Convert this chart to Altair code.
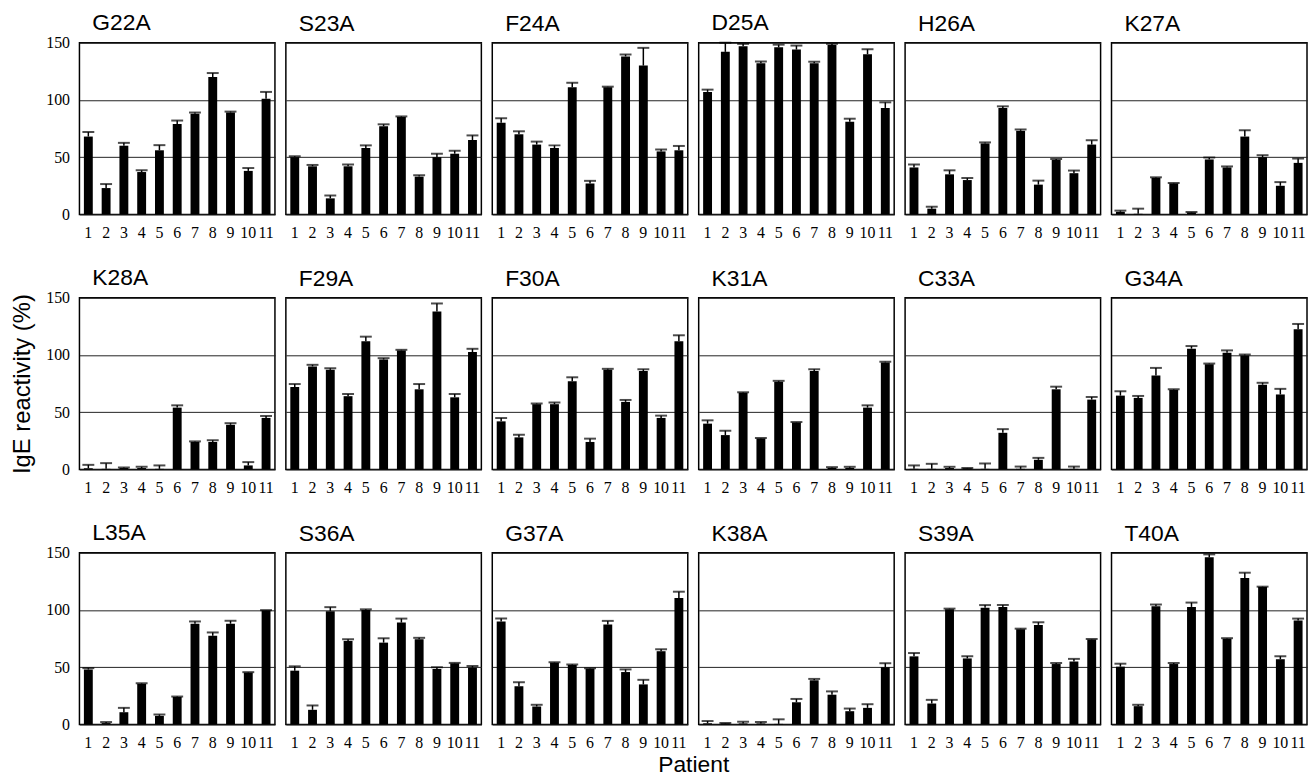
import altair as alt
import pandas as pd

patients = list(range(1, 12))

mutants = ["G22A", "S23A", "F24A", "D25A", "H26A", "K27A",
           "K28A", "F29A", "F30A", "K31A", "C33A", "G34A",
           "L35A", "S36A", "G37A", "K38A", "S39A", "T40A"]

G22A = [68, 23, 60, 37, 56, 79, 88, 120, 89, 38, 101]
G22A_err = [4, 3.5, 2.5, 1.5, 4.5, 3, 1, 3.5, 0.8, 2.5, 6]
S23A = [50, 42, 14, 42, 58, 77, 85, 33, 50, 53, 65]
S23A_err = [0.8, 1.2, 2.5, 1.5, 2.3, 1.7, 0.6, 1.2, 3, 2.6, 4]
F24A = [80, 70, 61, 58, 111, 27, 111, 138, 130, 55, 56]
F24A_err = [4, 2.6, 2.6, 2.3, 4, 2.3, 0.6, 1.7, 15.5, 1.7, 3.8]
D25A = [107, 142, 147, 132, 146, 144, 132, 148, 81, 140, 93]
D25A_err = [2, 8, 2, 1.5, 2.3, 3.5, 1.4, 1, 2.6, 4.3, 4.9]
H26A = [41, 5, 35, 30, 62, 93, 73, 26, 47.5, 36, 61]
H26A_err = [2.6, 1.7, 3.5, 1.7, 0.9, 1.4, 1.2, 3.5, 0.9, 2.3, 3.8]
K27A = [2.3, 0.5, 32, 27, 1.7, 48, 41, 68, 50, 25, 45]
K27A_err = [1, 4.5, 0.4, 0.5, 0.4, 1.7, 0.9, 5.5, 1.7, 3.2, 3.8]
K28A = [1, 0.5, 1.2, 1.2, 0.5, 54, 24, 24, 39, 3.5, 45]
K28A_err = [3, 5, 0.5, 1.1, 3, 2, 0.5, 1.5, 1.4, 2.9, 1.7]
F29A = [72, 90, 87, 64, 112, 96, 104, 70, 138, 63, 102.5]
F29A_err = [2.6, 1.4, 1.4, 2, 4, 1.2, 0.5, 4.6, 7, 2.9, 2.9]
F30A = [42, 28, 57, 57, 77, 24, 87, 59, 86, 45, 112]
F30A_err = [2.9, 2.3, 0.6, 1.5, 3.5, 2.9, 0.9, 1.7, 1.5, 2, 5.2]
K31A = [40, 30, 67, 27, 76.5, 41, 86, 1.4, 1.4, 54, 93.5]
K31A_err = [2.9, 3.8, 0.4, 0.5, 0.9, 0.4, 1.5, 0.6, 0.9, 2, 0.6]
C33A = [0.5, 0.5, 1.2, 0.9, 0.5, 32, 0.5, 8.4, 70, 0.5, 61]
C33A_err = [3, 4.4, 1.1, 0.4, 4.7, 3.2, 2, 1.7, 2.3, 2, 2.3]
G34A = [64.5, 62.5, 82, 69.5, 105.5, 92, 102, 99.5, 74, 65.5, 122.5]
G34A_err = [3.8, 1.7, 6.7, 0.5, 2.3, 0.5, 2, 0.9, 1.7, 4.9, 4.6]
L35A = [48, 1.2, 10.7, 35.5, 7.5, 24, 88, 77.5, 88, 45.3, 99.5]
L35A_err = [1.2, 0.9, 3.8, 0.5, 1.2, 0.4, 2, 2.9, 2.6, 0.4, 0.4]
S36A = [47, 12.8, 99, 73, 100, 71.5, 89, 74.5, 48.5, 53.4, 49.6]
S36A_err = [3.8, 3.8, 3.5, 1.5, 0.6, 3.8, 3.5, 1.2, 1.5, 0.4, 1.5]
G37A = [90, 33.4, 15.7, 54, 52, 48.7, 87.3, 45.8, 35, 64, 110.5]
G37A_err = [2.6, 3.5, 1.5, 0.4, 0.4, 0.4, 3.2, 2.3, 4, 1.7, 5.5]
K38A = [1, 0.9, 0.9, 0.9, 0.5, 19.4, 38.6, 26, 11.6, 14.5, 50]
K38A_err = [2, 0.4, 1.5, 1.2, 4, 2.9, 1.2, 2.9, 2.3, 3.2, 3.5]
S39A = [59.5, 18.3, 100.7, 57.7, 102, 102.7, 83.3, 87, 52.8, 55, 74.3]
S39A_err = [2.9, 3.2, 0.5, 2, 2.3, 1.7, 0.4, 2.3, 0.9, 2.3, 0.4]
T40A = [50.5, 16, 103.3, 52.8, 102.7, 146, 75, 128, 120, 57, 90.8]
T40A_err = [2.6, 1.2, 1.5, 0.9, 3.8, 2.6, 0.4, 4.6, 0.4, 2.6, 1.7]

series = {
    "G22A": (G22A, G22A_err), "S23A": (S23A, S23A_err), "F24A": (F24A, F24A_err),
    "D25A": (D25A, D25A_err), "H26A": (H26A, H26A_err), "K27A": (K27A, K27A_err),
    "K28A": (K28A, K28A_err), "F29A": (F29A, F29A_err), "F30A": (F30A, F30A_err),
    "K31A": (K31A, K31A_err), "C33A": (C33A, C33A_err), "G34A": (G34A, G34A_err),
    "L35A": (L35A, L35A_err), "S36A": (S36A, S36A_err), "G37A": (G37A, G37A_err),
    "K38A": (K38A, K38A_err), "S39A": (S39A, S39A_err), "T40A": (T40A, T40A_err),
}

y_ticks = [0, 50, 100, 150]
SANS = "Liberation Sans"
SERIF = "Liberation Serif"
W, H = 197, 173


def panel(idx, name):
    vals, errs = series[name]
    df = pd.DataFrame({"patient": patients, "value": vals, "err": errs})
    df["top"] = df["value"] + df["err"]
    col = idx % 6
    row = idx // 6

    xaxis = alt.Axis(title=None, labelAngle=0, ticks=False, domain=False,
                     labelFont=SERIF, labelFontSize=16, labelPadding=10,
                     labelColor="black", grid=False)
    xscale = alt.Scale(paddingInner=0.5, paddingOuter=0.25)
    yargs = dict(values=y_ticks, grid=True, gridColor="#222222", gridWidth=1,
                 ticks=False, domain=False, labels=(col == 0),
                 labelFont=SERIF, labelFontSize=16, labelPadding=10,
                 labelColor="black")
    if col == 0 and row == 1:
        yaxis = alt.Axis(title="IgE reactivity (%)", titleFont=SANS,
                         titleFontSize=24, titleFontWeight="normal",
                         titleColor="black", titlePadding=11, **yargs)
    else:
        yaxis = alt.Axis(title=None, **yargs)
    yscale = alt.Scale(domain=[0, 150], nice=False)

    base = alt.Chart(df)
    x = alt.X("patient:O", scale=xscale, axis=xaxis)
    bars = base.mark_bar(color="black").encode(
        x=x, y=alt.Y("value:Q", scale=yscale, axis=yaxis))
    whisk = base.mark_rule(color="black", strokeWidth=1.5).encode(
        x=x, y=alt.Y("value:Q", scale=yscale, axis=yaxis), y2="top:Q")
    caps = base.mark_tick(color="black", size=12, thickness=2).encode(
        x=x, y=alt.Y("top:Q", scale=yscale, axis=yaxis))
    return alt.layer(bars, whisk, caps).properties(
        width=W, height=H,
        title=alt.TitleParams(name, anchor="start", frame="group", dx=13,
                              offset=(0 if col == 0 else 7),
                              font=SANS, fontSize=23, fontWeight="normal",
                              color="black"))


panels = [panel(i, m) for i, m in enumerate(mutants)]

chart = alt.concat(*panels, columns=6,
                   spacing=alt.RowColnumber(row=84, column=11),
                   bounds="flush").properties(
    title=alt.TitleParams("Patient", orient="bottom", anchor="middle",
                          font=SANS, fontSize=23, fontWeight="normal",
                          color="black", offset=3, dx=35),
    padding={"left": 2, "top": 0, "right": 0, "bottom": 2},
).configure_view(stroke="black", strokeWidth=1.5)

chart.save("out.html", embed_options={"renderer": "svg", "actions": False})
